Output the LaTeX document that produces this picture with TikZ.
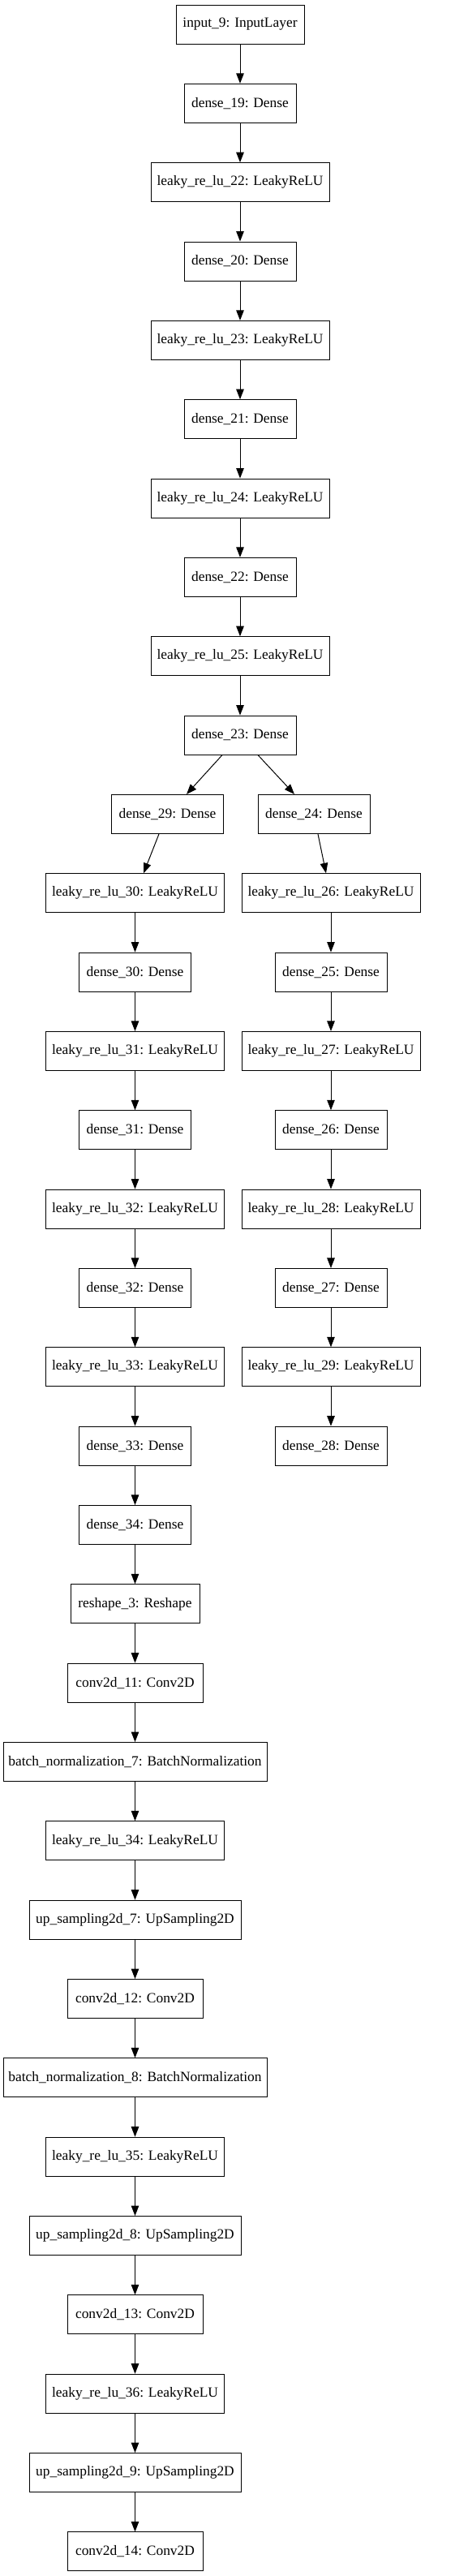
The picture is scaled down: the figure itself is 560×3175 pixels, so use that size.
\documentclass[tikz,border=0pt]{standalone}
\usepackage{fontspec}
\setmainfont{Liberation Serif}
\usetikzlibrary{arrows.meta}
\begin{document}
\begin{tikzpicture}[x=1pt,y=-1pt,
  lay/.style={draw=black, line width=1pt, rectangle, inner sep=0pt, minimum height=48pt, minimum width=#1, font=\fontsize{17.4}{20}\selectfont},
  conn/.style={line width=1pt, -{Triangle[length=12.5pt,width=9.5pt]}}]
\useasboundingbox (0,0) rectangle (560,3175);
% trunk
\node[lay=158] (in9) at (296,30) {input\_9: InputLayer};
\node[lay=138] (d19) at (296,127.34) {dense\_19: Dense};
\node[lay=220] (l22) at (296,224.68) {leaky\_re\_lu\_22: LeakyReLU};
\node[lay=138] (d20) at (296,322.02) {dense\_20: Dense};
\node[lay=220] (l23) at (296,419.36) {leaky\_re\_lu\_23: LeakyReLU};
\node[lay=138] (d21) at (296,516.70) {dense\_21: Dense};
\node[lay=220] (l24) at (296,614.04) {leaky\_re\_lu\_24: LeakyReLU};
\node[lay=138] (d22) at (296,711.38) {dense\_22: Dense};
\node[lay=220] (l25) at (296,808.72) {leaky\_re\_lu\_25: LeakyReLU};
\node[lay=138] (d23) at (296,906.06) {dense\_23: Dense};
% left branch
\node[lay=138] (d29) at (206.5,1003.40) {dense\_29: Dense};
\node[lay=220] (l30) at (166.5,1100.74) {leaky\_re\_lu\_30: LeakyReLU};
\node[lay=138] (d30) at (166.5,1198.08) {dense\_30: Dense};
\node[lay=220] (l31) at (166.5,1295.42) {leaky\_re\_lu\_31: LeakyReLU};
\node[lay=138] (d31) at (166.5,1392.76) {dense\_31: Dense};
\node[lay=220] (l32) at (166.5,1490.10) {leaky\_re\_lu\_32: LeakyReLU};
\node[lay=138] (d32) at (166.5,1587.44) {dense\_32: Dense};
\node[lay=220] (l33) at (166.5,1684.78) {leaky\_re\_lu\_33: LeakyReLU};
\node[lay=138] (d33) at (166.5,1782.12) {dense\_33: Dense};
\node[lay=138] (d34) at (166.5,1879.46) {dense\_34: Dense};
\node[lay=159] (rs3) at (166.5,1976.80) {reshape\_3: Reshape};
\node[lay=167] (c11) at (166.5,2074.14) {conv2d\_11: Conv2D};
\node[lay=325] (bn7) at (166.5,2171.48) {batch\_normalization\_7: BatchNormalization};
\node[lay=220] (l34) at (166.5,2268.82) {leaky\_re\_lu\_34: LeakyReLU};
\node[lay=261] (up7) at (166.5,2366.16) {up\_sampling2d\_7: UpSampling2D};
\node[lay=167] (c12) at (166.5,2463.50) {conv2d\_12: Conv2D};
\node[lay=325] (bn8) at (166.5,2560.84) {batch\_normalization\_8: BatchNormalization};
\node[lay=220] (l35) at (166.5,2658.18) {leaky\_re\_lu\_35: LeakyReLU};
\node[lay=261] (up8) at (166.5,2755.52) {up\_sampling2d\_8: UpSampling2D};
\node[lay=167] (c13) at (166.5,2852.86) {conv2d\_13: Conv2D};
\node[lay=220] (l36) at (166.5,2950.20) {leaky\_re\_lu\_36: LeakyReLU};
\node[lay=261] (up9) at (166.5,3047.54) {up\_sampling2d\_9: UpSampling2D};
\node[lay=167] (c14) at (166.5,3144.88) {conv2d\_14: Conv2D};
% right branch
\node[lay=138] (d24) at (387,1003.40) {dense\_24: Dense};
\node[lay=220] (l26) at (408,1100.74) {leaky\_re\_lu\_26: LeakyReLU};
\node[lay=138] (d25) at (408,1198.08) {dense\_25: Dense};
\node[lay=220] (l27) at (408,1295.42) {leaky\_re\_lu\_27: LeakyReLU};
\node[lay=138] (d26) at (408,1392.76) {dense\_26: Dense};
\node[lay=220] (l28) at (408,1490.10) {leaky\_re\_lu\_28: LeakyReLU};
\node[lay=138] (d27) at (408,1587.44) {dense\_27: Dense};
\node[lay=220] (l29) at (408,1684.78) {leaky\_re\_lu\_29: LeakyReLU};
\node[lay=138] (d28) at (408,1782.12) {dense\_28: Dense};
% connectors
\foreach \a/\b in {in9/d19,d19/l22,l22/d20,d20/l23,l23/d21,d21/l24,l24/d22,d22/l25,l25/d23,
  l30/d30,d30/l31,l31/d31,d31/l32,l32/d32,d32/l33,l33/d33,d33/d34,d34/rs3,rs3/c11,c11/bn7,bn7/l34,l34/up7,up7/c12,c12/bn8,bn8/l35,l35/up8,up8/c13,c13/l36,l36/up9,up9/c14,
  l26/d25,d25/l27,l27/d26,d26/l28,l28/d27,d27/l29,l29/d28}
  \draw[conn] (\a.south) -- (\b.north);
\draw[conn] ([xshift=-22pt]d23.south) -- ([xshift=23.5pt]d29.north);
\draw[conn] ([xshift=22pt]d23.south) -- ([xshift=-24pt]d24.north);
\draw[conn] ([xshift=-10.5pt]d29.south) -- ([xshift=10.5pt]l30.north);
\draw[conn] ([xshift=5pt]d24.south) -- ([xshift=-6pt]l26.north);
\end{tikzpicture}
\end{document}
